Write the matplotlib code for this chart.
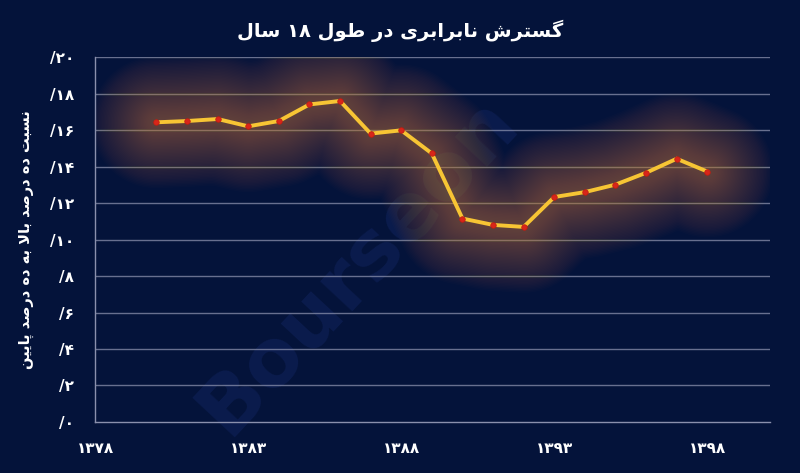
import matplotlib
matplotlib.use("Agg")
import matplotlib.pyplot as plt
import numpy as np

# ---------------- data ----------------
years = [1380, 1381, 1382, 1383, 1384, 1385, 1386, 1387, 1388, 1389,
         1390, 1391, 1392, 1393, 1394, 1395, 1396, 1397, 1398]
ratio = [16.44, 16.51, 16.62, 16.22, 16.51, 17.42, 17.61, 15.82, 16.00, 14.73,
         11.16, 10.81, 10.70, 12.34, 12.61, 13.02, 13.67, 14.44, 13.74]
xticks = [1378, 1383, 1388, 1393, 1398]
yticks = [0, 2, 4, 6, 8, 10, 12, 14, 16, 18, 20]
title_text = "گسترش نابرابری در طول ۱۸ سال"
ylabel_text = "نسبت ده درصد بالا به ده درصد پایین"

# ---------------- minimal Persian shaping ----------------
FORMS = {  # isolated, final, initial, medial
    'ا': ('\uFE8D', '\uFE8E', None, None), 'آ': ('\uFE81', '\uFE82', None, None),
    'ب': ('\uFE8F', '\uFE90', '\uFE91', '\uFE92'), 'پ': ('\uFB56', '\uFB57', '\uFB58', '\uFB59'),
    'ت': ('\uFE95', '\uFE96', '\uFE97', '\uFE98'), 'ث': ('\uFE99', '\uFE9A', '\uFE9B', '\uFE9C'),
    'ج': ('\uFE9D', '\uFE9E', '\uFE9F', '\uFEA0'), 'چ': ('\uFB7A', '\uFB7B', '\uFB7C', '\uFB7D'),
    'ح': ('\uFEA1', '\uFEA2', '\uFEA3', '\uFEA4'), 'خ': ('\uFEA5', '\uFEA6', '\uFEA7', '\uFEA8'),
    'د': ('\uFEA9', '\uFEAA', None, None), 'ذ': ('\uFEAB', '\uFEAC', None, None),
    'ر': ('\uFEAD', '\uFEAE', None, None), 'ز': ('\uFEAF', '\uFEB0', None, None),
    'ژ': ('\uFB8A', '\uFB8B', None, None),
    'س': ('\uFEB1', '\uFEB2', '\uFEB3', '\uFEB4'), 'ش': ('\uFEB5', '\uFEB6', '\uFEB7', '\uFEB8'),
    'ص': ('\uFEB9', '\uFEBA', '\uFEBB', '\uFEBC'), 'ض': ('\uFEBD', '\uFEBE', '\uFEBF', '\uFEC0'),
    'ط': ('\uFEC1', '\uFEC2', '\uFEC3', '\uFEC4'), 'ظ': ('\uFEC5', '\uFEC6', '\uFEC7', '\uFEC8'),
    'ع': ('\uFEC9', '\uFECA', '\uFECB', '\uFECC'), 'غ': ('\uFECD', '\uFECE', '\uFECF', '\uFED0'),
    'ف': ('\uFED1', '\uFED2', '\uFED3', '\uFED4'), 'ق': ('\uFED5', '\uFED6', '\uFED7', '\uFED8'),
    'ک': ('\uFB8E', '\uFB8F', '\uFB90', '\uFB91'), 'گ': ('\uFB92', '\uFB93', '\uFB94', '\uFB95'),
    'ل': ('\uFEDD', '\uFEDE', '\uFEDF', '\uFEE0'), 'م': ('\uFEE1', '\uFEE2', '\uFEE3', '\uFEE4'),
    'ن': ('\uFEE5', '\uFEE6', '\uFEE7', '\uFEE8'), 'و': ('\uFEED', '\uFEEE', None, None),
    'ه': ('\uFEE9', '\uFEEA', '\uFEEB', '\uFEEC'), 'ی': ('\uFBFC', '\uFBFD', '\uFBFE', '\uFBFF'),
}


def shape_word(s):
    chars = []
    i = 0
    while i < len(s):
        if s[i] == 'ل' and i + 1 < len(s) and s[i + 1] == 'ا':
            chars.append('LA')
            i += 2
        else:
            chars.append(s[i])
            i += 1

    def joins_left(c):
        if c == 'LA':
            return False
        f = FORMS.get(c)
        return f is not None and f[2] is not None

    def is_letter(c):
        return c == 'LA' or c in FORMS

    out = []
    for k, c in enumerate(chars):
        prev = chars[k - 1] if k > 0 else None
        nxt = chars[k + 1] if k + 1 < len(chars) else None
        jp = prev is not None and joins_left(prev)
        jn = nxt is not None and is_letter(nxt) and (c == 'LA' or joins_left(c))
        if c == 'LA':
            out.append('\uFEFC' if jp else '\uFEFB')
            continue
        f = FORMS.get(c)
        if f is None:
            out.append(c)
            continue
        if jp and jn and f[3]:
            out.append(f[3])
        elif jp:
            out.append(f[1])
        elif jn and f[2]:
            out.append(f[2])
        else:
            out.append(f[0])
    return ''.join(out)


def fa(text):
    words = text.split(' ')
    shaped = []
    for w in words:
        if all(('\u06F0' <= ch <= '\u06F9') or ch.isdigit() for ch in w):
            shaped.append(w)
        else:
            shaped.append(shape_word(w)[::-1])
    return ' '.join(shaped[::-1])


def fa_digits(n):
    return ''.join(chr(0x06F0 + int(d)) for d in str(n))


# ---------------- figure ----------------
bg = '#04133a'
fig = plt.figure(figsize=(8.0, 4.73), dpi=100, facecolor=bg)
ax = fig.add_axes([0.119, 0.108, 0.8435, 0.7706])
ax.set_facecolor(bg)

# watermark
ax.text(1386.6, 8.6, 'Bourseon', transform=ax.transData, fontsize=58,
        fontweight='bold', color='#15296a', alpha=0.4, rotation=47,
        ha='center', va='center', zorder=0)

# grid
for v in yticks[1:]:
    ax.axhline(v, color='#8a90ad', lw=1.0, alpha=0.75, zorder=1)

# soft glow (many thin-alpha layers)
n_layers = 45
for lw in np.linspace(95, 4, n_layers):
    ax.plot(years, ratio, color='#d8883c', lw=lw, alpha=0.014,
            solid_capstyle='round', solid_joinstyle='round', zorder=2)

ax.plot(years, ratio, color='#f7c534', lw=2.8, zorder=4,
        solid_joinstyle='miter')
ax.plot(years, ratio, 'o', color='#d8261a', ms=4.0, mec='#c01a10', mew=0.5, zorder=5)

ax.set_xlim(1378, 1400.05)
ax.set_ylim(0, 20)
ax.set_xticks(xticks)
ax.set_xticklabels([fa_digits(x) for x in xticks])
ax.set_yticks(yticks)
ax.set_yticklabels(['/' + fa_digits(y) for y in yticks])
ax.tick_params(axis='both', length=0, colors='white', labelsize=11)
ax.tick_params(axis='x', pad=14)
ax.tick_params(axis='y', pad=15)
for lab in ax.get_xticklabels() + ax.get_yticklabels():
    lab.set_fontweight('bold')

for side in ['top', 'right']:
    ax.spines[side].set_visible(False)
for side in ['left', 'bottom']:
    ax.spines[side].set_color('#8a90ad')
    ax.spines[side].set_linewidth(1.0)

ax.set_ylabel(fa(ylabel_text), color='white', fontsize=10.5, fontweight='bold')
ax.yaxis.set_label_coords(-0.09, 0.5)
fig.text(0.5, 0.935, fa(title_text), color='white', fontsize=14,
         fontweight='bold', ha='center', va='center')

fig.savefig('out.png', dpi=100, facecolor=bg)
